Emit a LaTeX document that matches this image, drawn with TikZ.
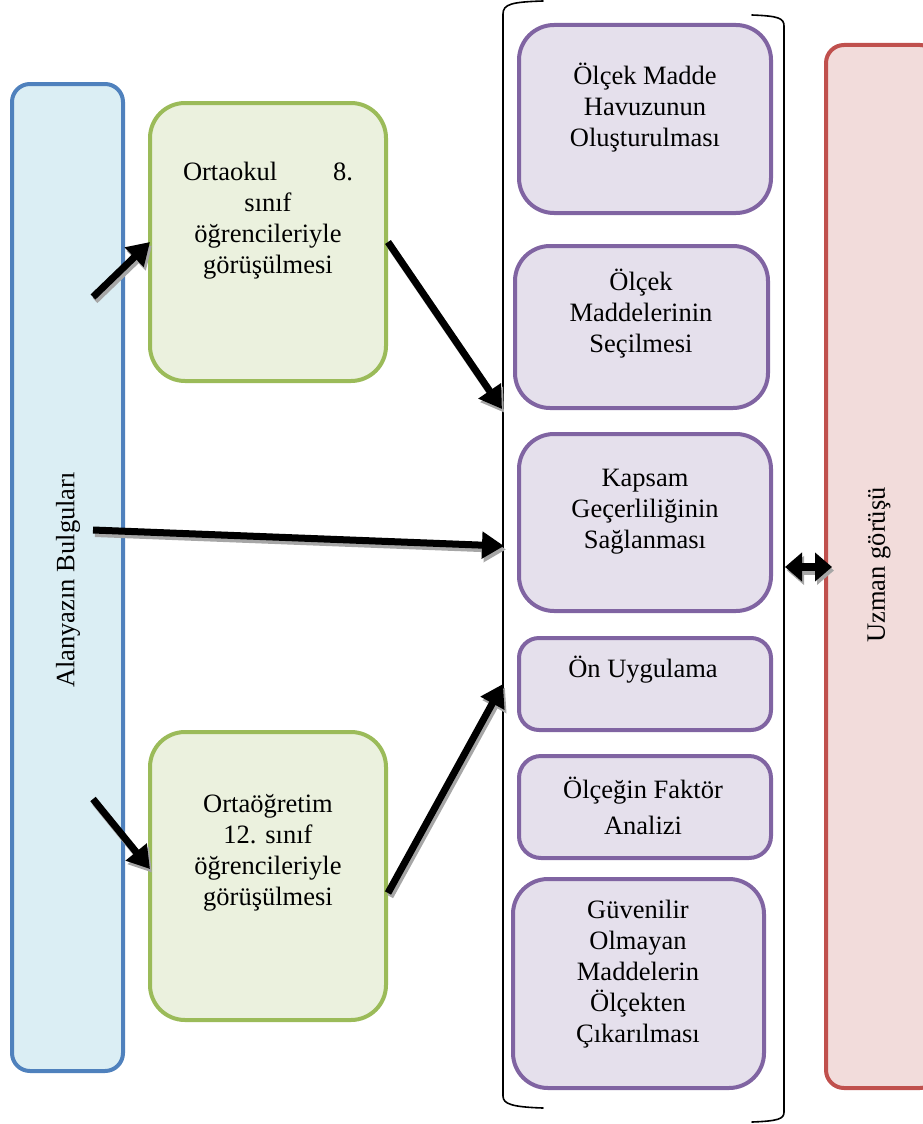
\documentclass[tikz,border=0pt]{standalone}
\usepackage{fontspec}
\setmainfont{Liberation Serif}
\usetikzlibrary{arrows.meta}
\definecolor{bblue}{HTML}{4F81BD}
\definecolor{bbluef}{HTML}{DBEEF4}
\definecolor{ggreen}{HTML}{9BBB59}
\definecolor{ggreenf}{HTML}{EBF1DE}
\definecolor{ppurple}{HTML}{8064A2}
\definecolor{ppurplef}{HTML}{E5E0EC}
\definecolor{rred}{HTML}{C0504D}
\definecolor{rredf}{HTML}{F2DCDB}
\definecolor{shadowgray}{HTML}{A6A6A6}
\begin{document}
\begin{tikzpicture}[x=1pt,y=-1pt,
  boxbase/.style={draw, line width=4pt, inner sep=0pt, outer sep=0pt},
  bluebox/.style={boxbase, draw=bblue, fill=bbluef, rounded corners=18pt},
  greenbox/.style={boxbase, draw=ggreen, fill=ggreenf, rounded corners=35pt},
  purplebox/.style={boxbase, draw=ppurple, fill=ppurplef, rounded corners=35pt},
  redbox/.style={boxbase, draw=rred, fill=rredf, rounded corners=18pt},
  txt/.style={align=center, inner sep=0pt, font=\fontsize{26.5}{31}\selectfont},
  arr/.style={line width=7pt, -{Triangle[length=22pt,width=26pt]}},
  darr/.style={line width=8pt, {Triangle[length=17pt,width=28pt]}-{Triangle[length=17pt,width=28pt]}},
  shadowline/.style={draw=shadowgray, transform canvas={xshift=2pt,yshift=-3.5pt}},
  bracketline/.style={line width=1.6pt, line cap=round}
]
\useasboundingbox (0,0) rectangle (923,1124);

% boxes
\node[bluebox, minimum width=111pt, minimum height=987pt] (blue) at (67.5,577.5) {};
\node[greenbox, minimum width=236pt, minimum height=278pt] (g1) at (268,242) {};
\node[greenbox, minimum width=236pt, minimum height=288pt] (g2) at (268,876) {};
\node[purplebox, minimum width=252pt, minimum height=188pt] (p1) at (645,119) {};
\node[purplebox, minimum width=253pt, minimum height=162pt] (p2) at (641.5,327) {};
\node[purplebox, minimum width=252pt, minimum height=177pt] (p3) at (645,522.5) {};
\node[purplebox, rounded corners=20pt, minimum width=252pt, minimum height=92pt] (p4) at (645,684) {};
\node[purplebox, rounded corners=22pt, minimum width=252pt, minimum height=102pt] (p5) at (645,807) {};
\node[purplebox, minimum width=251pt, minimum height=209pt] (p6) at (638.5,983.5) {};
\node[redbox, minimum width=112pt, minimum height=1043pt] (red) at (882,566.5) {};

% texts
\node[txt, rotate=90] (tblue) at (68,580) {Alanyazın Bulguları};
\node[txt, rotate=90] (tred) at (879,565) {Uzman görüşü};
\node[txt] (tg1) at (268,221) {\makebox[170pt]{Ortaokul\hfill 8.}\\ sınıf\\ öğrencileriyle\\ görüşülmesi};
\node[txt] (tg2) at (268,852.5) {Ortaöğretim\\ 12. sınıf\\ öğrencileriyle\\ görüşülmesi};
\node[txt] (tp1) at (645,107.5) {Ölçek Madde\\ Havuzunun\\ Oluşturulması};
\node[txt] (tp2) at (641,314) {Ölçek\\ Maddelerinin\\ Seçilmesi};
\node[txt] (tp3) at (645,511.5) {Kapsam\\ Geçerliliğinin\\ Sağlanması};
\node[txt] (tp4) at (643,670) {Ön Uygulama};
\node[txt, font=\fontsize{26.5}{36}\selectfont] (tp5) at (643,806) {Ölçeğin Faktör\\ Analizi};
\node[txt] (tp6) at (638,974) {Güvenilir\\ Olmayan\\ Maddelerin\\ Ölçekten\\ Çıkarılması};

% brackets
\draw[bracketline] (543,1) .. controls (512,2) and (503,4) .. (503,14) -- (503,1096) .. controls (503,1104) and (512,1107) .. (543,1108);
\draw[bracketline] (752,15) .. controls (778,16) and (784,18) .. (784,26) -- (784,1112) .. controls (784,1119) and (778,1121) .. (752,1122);

% arrow end points
\coordinate (a1s) at (93,297);  \coordinate (a1e) at (150,242);
\coordinate (a2s) at (388,242); \coordinate (a2e) at (502,409);
\coordinate (a3s) at (93,530);  \coordinate (a3e) at (504,546);
\coordinate (a4s) at (93,799);  \coordinate (a4e) at (150,869);
\coordinate (a5s) at (388,893); \coordinate (a5e) at (503,684);
\coordinate (a6s) at (785,567); \coordinate (a6e) at (832,567);

% shadows
\draw[arr, shadowline] (a1s) -- (a1e);
\draw[arr, shadowline] (a2s) -- (a2e);
\draw[arr, shadowline] (a3s) -- (a3e);
\draw[arr, shadowline] (a4s) -- (a4e);
\draw[arr, shadowline] (a5s) -- (a5e);
\draw[darr, shadowline] (a6s) -- (a6e);
% arrows
\draw[arr] (a1s) -- (a1e);
\draw[arr] (a2s) -- (a2e);
\draw[arr] (a3s) -- (a3e);
\draw[arr] (a4s) -- (a4e);
\draw[arr] (a5s) -- (a5e);
\draw[darr] (a6s) -- (a6e);
\end{tikzpicture}
\end{document}
